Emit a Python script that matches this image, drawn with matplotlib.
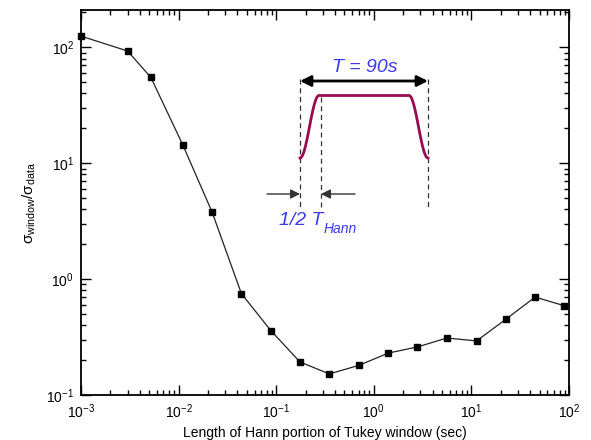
import numpy as np
import matplotlib
matplotlib.use("Agg")
import matplotlib.pyplot as plt
from matplotlib.ticker import LogLocator, NullFormatter

plt.rcParams["font.family"] = ["Liberation Sans", "DejaVu Sans"]
plt.rcParams["mathtext.fontset"] = "custom"
plt.rcParams["mathtext.rm"] = "Liberation Sans"
plt.rcParams["mathtext.it"] = "Liberation Sans:italic"

# Hann portion length (sec) vs sigma ratio
hann_len = [0.001, 0.003, 0.0052, 0.011, 0.022, 0.044, 0.088, 0.175,
            0.35, 0.70, 1.41, 2.8, 5.6, 11.3, 22.5, 45.0, 89.0]
sigma_ratio = [125, 93, 55, 14.5, 3.8, 0.75, 0.36, 0.193,
               0.152, 0.18, 0.23, 0.26, 0.31, 0.293, 0.45, 0.70, 0.59]

x_ticks = [1e-3, 1e-2, 1e-1, 1e0, 1e1, 1e2]
x_ticklabels = [r"$10^{-3}$", r"$10^{-2}$", r"$10^{-1}$", r"$10^{0}$", r"$10^{1}$", r"$10^{2}$"]
y_ticks = [1e-1, 1e0, 1e1, 1e2]
y_ticklabels = [r"$10^{-1}$", r"$10^{0}$", r"$10^{1}$", r"$10^{2}$"]

W, H = 591, 440
fig = plt.figure(figsize=(W / 100, H / 100), dpi=100)
ax = fig.add_axes([81 / W, 1 - 395 / H, (569 - 81) / W, (395 - 10) / H])

ax.plot(hann_len, sigma_ratio, color="#222222", lw=0.9, marker="s",
        markersize=4, markerfacecolor="black", markeredgecolor="black",
        clip_on=False, zorder=3)

ax.set_xscale("log")
ax.set_yscale("log")
ax.set_xlim(1e-3, 1e2)
ax.set_ylim(1e-1, 210)
ax.set_xticks(x_ticks)
ax.set_xticklabels(x_ticklabels)
ax.set_yticks(y_ticks)
ax.set_yticklabels(y_ticklabels)
ax.xaxis.set_minor_locator(LogLocator(base=10, subs=np.arange(2, 10)))
ax.yaxis.set_minor_locator(LogLocator(base=10, subs=np.arange(2, 10)))
ax.xaxis.set_minor_formatter(NullFormatter())
ax.yaxis.set_minor_formatter(NullFormatter())
ax.tick_params(which="both", direction="in", top=True, right=True,
               labelsize=10, width=1.0)
ax.tick_params(which="major", length=7, pad=5)
ax.tick_params(which="minor", length=3.5)
for s in ax.spines.values():
    s.set_linewidth(1.3)

ax.set_xlabel("Length of Hann portion of Tukey window (sec)", fontsize=10, labelpad=4)
ax.set_ylabel("σ$_{\\mathrm{window}}$/σ$_{\\mathrm{data}}$", fontsize=11, labelpad=6)


# schematic of the Tukey window, placed in pixel coordinates
def px(x, y):
    return x / W, 1 - y / H


blue = "#3a3aee"
maroon = "#990a50"
xl, xm, xr = 300, 321, 428
y_top, y_bot = 79, 208

for xx, y0 in [(xl, y_top), (xm, 97), (xr, y_top)]:
    fig.add_artist(plt.Line2D(*zip(px(xx, y0), px(xx, y_bot)), color="#333333",
                              lw=0.9, ls=(0, (4, 3))))

# tukey shape
taper = 19
t = np.linspace(0, 1, 60)
rise = 0.5 - 0.5 * np.cos(np.pi * t)
cx = np.concatenate([xl + taper * t, xr - taper * t[::-1]])
cy_frac = np.concatenate([rise, rise[::-1]])
cy = 158 - (158 - 95.5) * cy_frac
pts = [px(a, b) for a, b in zip(cx, cy)]
fig.add_artist(plt.Line2D([p[0] for p in pts], [p[1] for p in pts],
                          color=maroon, lw=2.0))

fig.patches.append(matplotlib.patches.FancyArrowPatch(
    px(xl, 81), px(xr, 81), transform=fig.transFigure, arrowstyle="<|-|>",
    mutation_scale=16, color="black", lw=2.0, shrinkA=0, shrinkB=0))
fig.text(*px(365, 68), "T = 90s", color=blue, fontsize=14, style="italic",
         ha="center", va="center")

fig.patches.append(matplotlib.patches.FancyArrowPatch(
    px(267, 194), px(xl, 194), transform=fig.transFigure, arrowstyle="-|>",
    mutation_scale=14, color="#333333", lw=1.0, shrinkA=0, shrinkB=0))
fig.patches.append(matplotlib.patches.FancyArrowPatch(
    px(355, 194), px(xm, 194), transform=fig.transFigure, arrowstyle="-|>",
    mutation_scale=14, color="#333333", lw=1.0, shrinkA=0, shrinkB=0))
fig.text(*px(279, 220), "1/2 T", color=blue, fontsize=14, style="italic",
         ha="left", va="center")
fig.text(*px(324, 229), "Hann", color=blue, fontsize=10, style="italic",
         ha="left", va="center")

fig.savefig("out.png", dpi=100, facecolor="white")
